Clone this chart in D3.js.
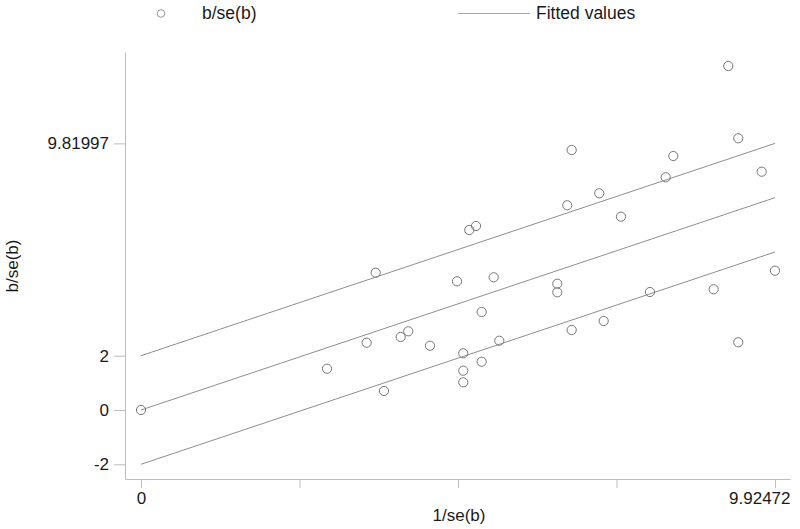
<!DOCTYPE html>
<html>
<head>
<meta charset="utf-8">
<script src="https://d3js.org/d3.v7.min.js"></script>
<style>
  body { margin: 0; background: #fff; }
  text { font-family: "Liberation Sans", Arial, sans-serif; fill: #1a1a1a; }
</style>
</head>
<body>
<svg width="800" height="529"></svg>
<script>
// 1/se(b) for each study
const precision = [0, 2.912, 3.674, 3.533, 3.804, 4.065, 4.184, 4.524, 4.947, 5.045,
  5.045, 5.045, 5.139, 5.244, 5.333, 5.333, 5.521, 5.609, 6.517, 6.517,
  6.673, 6.742, 6.742, 7.174, 7.243, 7.514, 7.968, 8.214, 8.333, 8.965,
  9.194, 9.350, 9.350, 9.717, 9.92472];
// b/se(b) for each study
const zscore = [0, 1.521, 5.057, 2.479, 0.700, 2.689, 2.899, 2.368, 4.740, 2.088,
  1.448, 1.020, 6.630, 6.777, 3.610, 1.779, 4.888, 2.552, 4.652, 4.335,
  7.540, 9.576, 2.947, 7.982, 3.278, 7.120, 4.346, 8.571, 9.355, 4.446,
  12.670, 10.007, 2.494, 8.777, 5.131];
// fitted line through origin, plus the +/-2 bands
const fitSlope = 7.81997 / 9.92472;
const bandOffsets = [-2, 0, 2];
const yTicks = [-2, 0, 2, 9.81997];
const yTickLabels = ["-2", "0", "2", "9.81997"];
const xTicks = [0, 9.92472 / 4, 9.92472 / 2, 9.92472 * 3 / 4, 9.92472];
const xTickLabels = ["0", "", "", "", "9.92472"];

const svg = d3.select("svg");
const x = d3.scaleLinear().domain([-0.2505, 10.16]).range([125, 790]);
const y = d3.scaleLinear().domain([-2.541, 13.186]).range([479, 52]);

const axisColor = "#bdbdbd";

// y axis
const gy = svg.append("g").attr("transform", "translate(125,0)")
  .call(d3.axisLeft(y).tickValues(yTicks).tickSize(11).tickSizeOuter(0).tickPadding(5)
    .tickFormat((d, i) => yTickLabels[i]));
gy.select(".domain").attr("stroke", axisColor);
gy.selectAll(".tick line").attr("stroke", axisColor);
gy.selectAll(".tick text").style("font-size", "17px").attr("fill", "#1a1a1a");

// x axis
const gx = svg.append("g").attr("transform", "translate(0,479)")
  .call(d3.axisBottom(x).tickValues(xTicks).tickSize(9).tickSizeOuter(0).tickPadding(4)
    .tickFormat((d, i) => xTickLabels[i]));
gx.select(".domain").attr("stroke", axisColor);
gx.selectAll(".tick line").attr("stroke", axisColor);
gx.selectAll(".tick text").style("font-size", "17px").attr("fill", "#1a1a1a");
gx.selectAll(".tick text").filter((d, i) => i === xTicks.length - 1)
  .attr("text-anchor", "end").attr("x", x(10.16) - x(9.92472));

// fitted lines
const xMax = d3.max(precision);
svg.append("g").selectAll("line").data(bandOffsets).join("line")
  .attr("x1", x(0)).attr("y1", d => y(d))
  .attr("x2", x(xMax)).attr("y2", d => y(d + fitSlope * xMax))
  .attr("stroke", "#8e8e8e").attr("stroke-width", 1);

// points
svg.append("g").selectAll("circle").data(precision).join("circle")
  .attr("cx", d => x(d)).attr("cy", (d, i) => y(zscore[i]))
  .attr("r", 4.6).attr("fill", "none").attr("stroke", "#777").attr("stroke-width", 1);

// axis titles
svg.append("text").attr("x", 459).attr("y", 521).attr("text-anchor", "middle")
  .style("font-size", "17px").text("1/se(b)");
svg.append("text").attr("transform", "translate(18,266) rotate(-90)").attr("text-anchor", "middle")
  .style("font-size", "17px").text("b/se(b)");

// legend
svg.append("circle").attr("cx", 161).attr("cy", 13.5).attr("r", 3.8)
  .attr("fill", "none").attr("stroke", "#999").attr("stroke-width", 1);
svg.append("text").attr("x", 202).attr("y", 19).style("font-size", "17.5px").text("b/se(b)");
svg.append("line").attr("x1", 458).attr("x2", 530).attr("y1", 13.5).attr("y2", 13.5)
  .attr("stroke", "#a8a8a8").attr("stroke-width", 1);
svg.append("text").attr("x", 536).attr("y", 19).style("font-size", "17.5px").text("Fitted values");
</script>
</body>
</html>
